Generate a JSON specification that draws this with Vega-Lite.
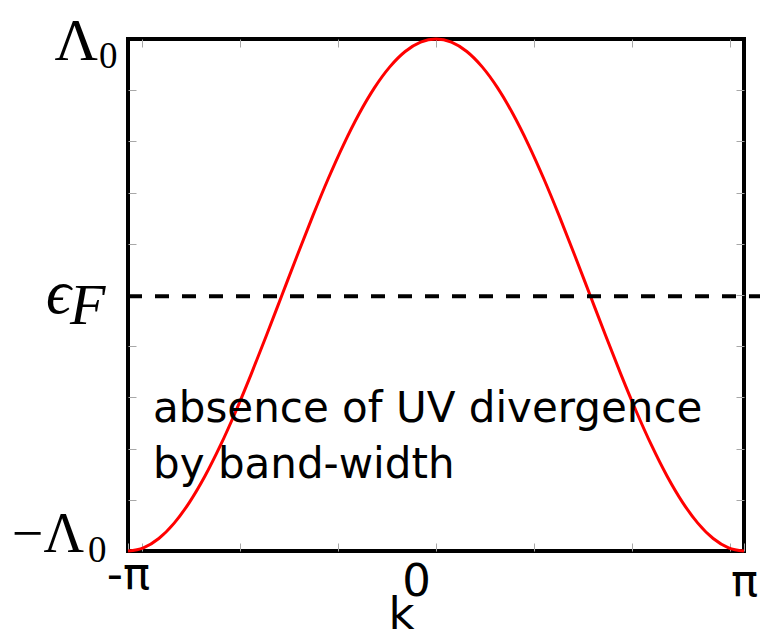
{
  "$schema": "https://vega.github.io/schema/vega-lite/v6.json",
  "width": 616,
  "height": 512,
  "autosize": {"type": "none"},
  "padding": {"left": 128, "top": 39, "right": 16, "bottom": 82},
  "background": "white",
  "config": {
    "view": {"stroke": "black", "strokeWidth": 4},
    "axis": {"domain": false, "grid": false, "tickColor": "#a8a8a8", "tickWidth": 1, "tickSize": -8, "labelOverlap": false, "labelFlush": false}
  },
  "datasets": {
    "band": [
      {"k": -3.1416, "e": -1.0},
      {"k": -2.9845, "e": -0.9877},
      {"k": -2.8274, "e": -0.9511},
      {"k": -2.6704, "e": -0.891},
      {"k": -2.5133, "e": -0.809},
      {"k": -2.3562, "e": -0.7071},
      {"k": -2.1991, "e": -0.5878},
      {"k": -2.042, "e": -0.454},
      {"k": -1.885, "e": -0.309},
      {"k": -1.7279, "e": -0.1564},
      {"k": -1.5708, "e": 0.0},
      {"k": -1.4137, "e": 0.1564},
      {"k": -1.2566, "e": 0.309},
      {"k": -1.0996, "e": 0.454},
      {"k": -0.9425, "e": 0.5878},
      {"k": -0.7854, "e": 0.7071},
      {"k": -0.6283, "e": 0.809},
      {"k": -0.4712, "e": 0.891},
      {"k": -0.3142, "e": 0.9511},
      {"k": -0.1571, "e": 0.9877},
      {"k": 0.0, "e": 1.0},
      {"k": 0.1571, "e": 0.9877},
      {"k": 0.3142, "e": 0.9511},
      {"k": 0.4712, "e": 0.891},
      {"k": 0.6283, "e": 0.809},
      {"k": 0.7854, "e": 0.7071},
      {"k": 0.9425, "e": 0.5878},
      {"k": 1.0996, "e": 0.454},
      {"k": 1.2566, "e": 0.309},
      {"k": 1.4137, "e": 0.1564},
      {"k": 1.5708, "e": 0.0},
      {"k": 1.7279, "e": -0.1564},
      {"k": 1.885, "e": -0.309},
      {"k": 2.042, "e": -0.454},
      {"k": 2.1991, "e": -0.5878},
      {"k": 2.3562, "e": -0.7071},
      {"k": 2.5133, "e": -0.809},
      {"k": 2.6704, "e": -0.891},
      {"k": 2.8274, "e": -0.9511},
      {"k": 2.9845, "e": -0.9877},
      {"k": 3.1416, "e": -1.0}
    ],
    "fermi": [{"kStart": -3.1416, "kEnd": 3.45, "eF": -0.005}],
    "note": [{"k": -2.886, "e": -0.497, "lines": ["absence of UV divergence", "by band-width"]}],
    "top": [{"k": -3.1416, "e": 1, "sym": "Λ", "sub": "0"}],
    "fermiLabel": [{"k": -3.1416, "e": -0.005, "sym": "ϵ", "sub": "F"}],
    "bottom": [{"k": -3.1416, "e": -1, "sym": "−Λ", "sub": "0"}]
  },
  "layer": [
    {
      "data": {"name": "band"},
      "mark": {"type": "line", "color": "#ff0000", "strokeWidth": 3, "interpolate": "monotone"},
      "encoding": {
        "x": {
          "field": "k", "type": "quantitative",
          "scale": {"domain": [-3.14159, 3.14159], "nice": false, "zero": false},
          "axis": {
            "orient": "bottom",
            "values": [-3.14159, -3, -2, -1, 0, 1, 2, 3, 3.14159],
            "labelExpr": "datum.value < -3.1 ? '-π' : (datum.value > 3.1 ? 'π' : (datum.value == 0 ? '0' : ''))",
            "labelFont": "DejaVu Sans", "labelFontSize": 45, "labelColor": "black",
            "labelBaseline": "alphabetic", "labelAlign": "center",
            "labelPadding": {"condition": {"test": "datum.value < -3.1", "value": 45}, "value": 52},
            "labelOffset": {"condition": {"test": "datum.value == 0", "value": -20}, "value": 0},
            "title": "k", "titleFont": "DejaVu Sans", "titleFontSize": 45, "titleFontWeight": "normal",
            "titleColor": "black", "titleBaseline": "alphabetic", "titleAlign": "center",
            "titleX": 273, "titleY": 77
          }
        },
        "y": {
          "field": "e", "type": "quantitative",
          "scale": {"domain": [-1, 1], "nice": false, "zero": false},
          "axis": {"orient": "left", "values": [-0.8, -0.6, -0.4, -0.2, 0, 0.2, 0.4, 0.6, 0.8], "labels": false, "title": null}
        }
      }
    },
    {
      "data": {"name": "fermi"},
      "mark": {"type": "rule", "color": "black", "strokeWidth": 4, "strokeDash": [14, 13]},
      "encoding": {
        "x": {
          "field": "kStart", "type": "quantitative",
          "scale": {"domain": [-3.14159, 3.14159], "nice": false, "zero": false},
          "axis": {"orient": "top", "values": [-3, -2, -1, 0, 1, 2, 3], "labels": false, "title": null}
        },
        "x2": {"field": "kEnd"},
        "y": {
          "field": "eF", "type": "quantitative",
          "axis": {"orient": "right", "values": [-0.8, -0.6, -0.4, -0.2, 0, 0.2, 0.4, 0.6, 0.8], "labels": false, "title": null}
        }
      }
    },
    {
      "data": {"name": "note"},
      "mark": {"type": "text", "font": "DejaVu Sans", "fontSize": 42, "color": "black", "align": "left", "baseline": "alphabetic", "lineHeight": 56},
      "encoding": {
        "x": {"field": "k", "type": "quantitative", "axis": null},
        "y": {"field": "e", "type": "quantitative", "axis": null},
        "text": {"field": "lines"}
      }
    },
    {
      "data": {"name": "top"},
      "layer": [
        {"mark": {"type": "text", "font": "Liberation Serif", "fontSize": 60, "color": "black", "align": "right", "baseline": "alphabetic", "dx": -30, "dy": 21},
         "encoding": {"text": {"field": "sym"}}},
        {"mark": {"type": "text", "font": "Liberation Serif", "fontSize": 37, "color": "black", "align": "left", "baseline": "alphabetic", "dx": -29, "dy": 29},
         "encoding": {"text": {"field": "sub"}}}
      ],
      "encoding": {
        "x": {"field": "k", "type": "quantitative", "axis": null},
        "y": {"field": "e", "type": "quantitative", "axis": null}
      }
    },
    {
      "data": {"name": "fermiLabel"},
      "layer": [
        {"mark": {"type": "text", "font": "Liberation Serif", "fontStyle": "italic", "fontSize": 62, "color": "black", "align": "right", "baseline": "alphabetic", "dx": -57, "dy": 17},
         "encoding": {"text": {"field": "sym"}}},
        {"mark": {"type": "text", "font": "Liberation Serif", "fontStyle": "italic", "fontSize": 58, "color": "black", "align": "left", "baseline": "alphabetic", "dx": -58, "dy": 28},
         "encoding": {"text": {"field": "sub"}}}
      ],
      "encoding": {
        "x": {"field": "k", "type": "quantitative", "axis": null},
        "y": {"field": "e", "type": "quantitative", "axis": null}
      }
    },
    {
      "data": {"name": "bottom"},
      "layer": [
        {"mark": {"type": "text", "font": "Liberation Serif", "fontSize": 56, "color": "black", "align": "right", "baseline": "alphabetic", "dx": -44, "dy": 1},
         "encoding": {"text": {"field": "sym"}}},
        {"mark": {"type": "text", "font": "Liberation Serif", "fontSize": 37, "color": "black", "align": "left", "baseline": "alphabetic", "dx": -40, "dy": 11},
         "encoding": {"text": {"field": "sub"}}}
      ],
      "encoding": {
        "x": {"field": "k", "type": "quantitative", "axis": null},
        "y": {"field": "e", "type": "quantitative", "axis": null}
      }
    }
  ]
}
